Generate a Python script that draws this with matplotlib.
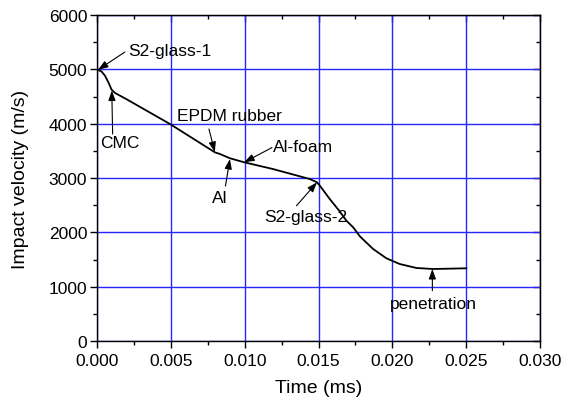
import matplotlib
matplotlib.use("Agg")
import matplotlib.pyplot as plt
from matplotlib.ticker import MultipleLocator, FormatStrFormatter

plt.rcParams['font.family'] = ['Liberation Sans', 'DejaVu Sans']

# Curve data: time (ms) vs impact velocity (m/s)
time_ms = [0.0, 0.00005, 0.00032, 0.00054, 0.00077, 0.00099, 0.00122, 0.002, 0.003,
           0.00494, 0.00798, 0.00832, 0.009, 0.00997, 0.0119, 0.0144, 0.0149,
           0.01509, 0.01576, 0.0164, 0.01689, 0.01735, 0.0178, 0.0187, 0.0196,
           0.0205, 0.02163, 0.02276, 0.02501]
velocity = [5000, 4994, 4957, 4883, 4761, 4625, 4565, 4450, 4295,
            3994, 3473, 3442, 3363, 3289, 3166, 2982, 2921,
            2859, 2614, 2398, 2214, 2092, 1927, 1693, 1522,
            1417, 1344, 1325, 1338]

# Annotations: label, text position, text alignment, arrow tail, arrow head
ann_labels = ["S2-glass-1", "CMC", "EPDM rubber", "Al-foam", "Al", "S2-glass-2", "penetration"]
ann_text_xy = [(0.0021, 5338), (0.0002, 3654), (0.00541, 4150), (0.0119, 3571),
               (0.00828, 2641), (0.01411, 2292), (0.02277, 681)]
ann_ha = ["left", "left", "left", "left", "center", "center", "center"]
ann_tail = [(0.00189, 5319), (0.00106, 3810), (0.00758, 3902), (0.01185, 3560),
            (0.0087, 2853), (0.01351, 2490), (0.02271, 926)]
ann_head = [(0.00007, 4992), (0.001, 4610), (0.00798, 3479), (0.00997, 3289),
            (0.009, 3350), (0.0149, 2921), (0.02271, 1325)]

fig = plt.figure(figsize=(5.63, 4.06), dpi=100)
ax = fig.add_axes([97/563, 1-342/406, (540-97)/563, (342-16)/406])

ax.plot(time_ms, velocity, color='black', lw=1.3, zorder=3)

ax.set_xlim(0, 0.030)
ax.set_ylim(0, 6000)
ax.xaxis.set_major_locator(MultipleLocator(0.005))
ax.xaxis.set_minor_locator(MultipleLocator(0.0025))
ax.yaxis.set_major_locator(MultipleLocator(1000))
ax.yaxis.set_minor_locator(MultipleLocator(500))
ax.xaxis.set_major_formatter(FormatStrFormatter('%.3f'))

ax.grid(True, which='major', color=(0.15, 0.15, 1.0), lw=1.0, zorder=0)
ax.set_axisbelow(True)

ax.tick_params(axis='both', which='major', direction='out', length=5, width=1,
               labelsize=12.5)
ax.tick_params(axis='x', which='major', pad=3.5)
ax.tick_params(axis='y', which='major', pad=2)
ax.tick_params(axis='both', which='minor', direction='out', length=3, width=1)
for s in ax.spines.values():
    s.set_linewidth(1.0)

# top and right inward ticks
top = ax.secondary_xaxis('top')
top.xaxis.set_major_locator(MultipleLocator(0.005))
top.xaxis.set_minor_locator(MultipleLocator(0.0025))
top.tick_params(which='major', direction='in', length=5, width=1, labeltop=False)
top.tick_params(which='minor', direction='in', length=3, width=1)
right = ax.secondary_yaxis('right')
right.yaxis.set_major_locator(MultipleLocator(1000))
right.yaxis.set_minor_locator(MultipleLocator(500))
right.tick_params(which='major', direction='in', length=5, width=1, labelright=False)
right.tick_params(which='minor', direction='in', length=3, width=1)

ax.set_xlabel("Time (ms)", fontsize=14, labelpad=8)
ax.set_ylabel("Impact velocity (m/s)", fontsize=14, labelpad=14)

for lab, txy, ha, tail, head in zip(ann_labels, ann_text_xy, ann_ha, ann_tail, ann_head):
    ax.text(txy[0], txy[1], lab, ha=ha, va='center', fontsize=12.5, zorder=4)
    ax.annotate('', xy=head, xytext=tail,
                arrowprops=dict(arrowstyle='-|>,head_length=0.5,head_width=0.18',
                                color='black', lw=0.8,
                                mutation_scale=12, shrinkA=0, shrinkB=0), zorder=4)

fig.savefig("out.png", dpi=100)
